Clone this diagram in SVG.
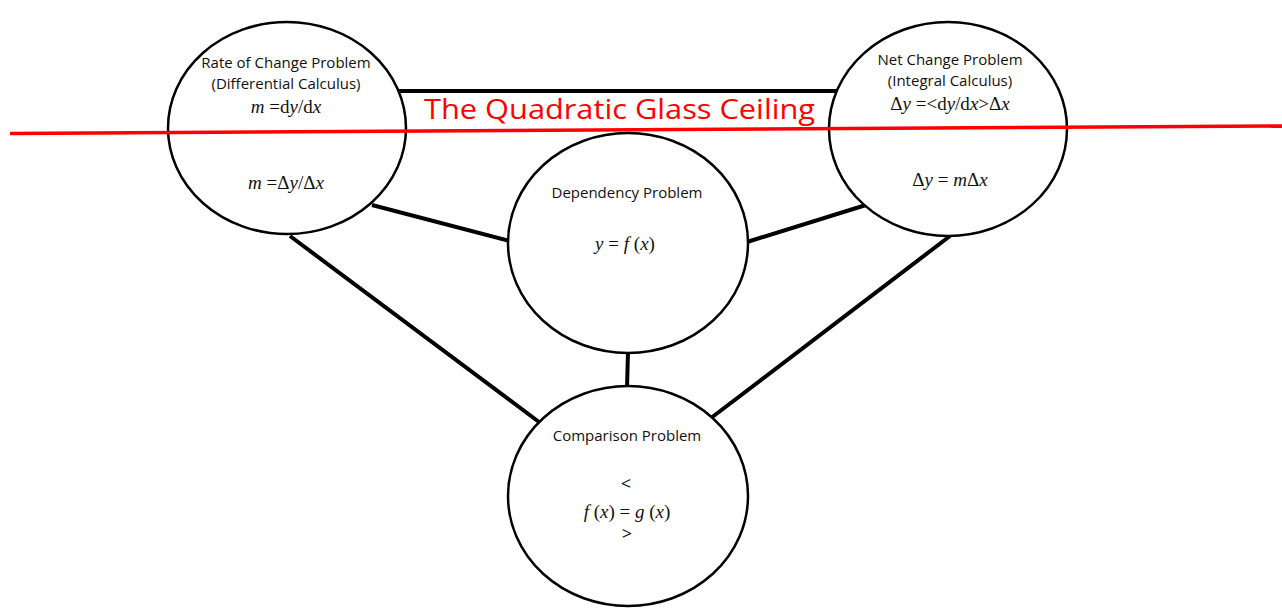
<svg xmlns="http://www.w3.org/2000/svg" width="1282" height="608" viewBox="0 0 1282 608">
<style>
.node{fill:#fff;stroke:#000;stroke-width:2.5}
.edge{stroke:#000;stroke-width:4;fill:none}
.lbl{font-family:"Open Sans","Liberation Sans",sans-serif;font-size:15px;fill:#111;text-anchor:middle}
.cmp{font-family:"Open Sans","Liberation Sans",sans-serif;font-size:18px;fill:#111;text-anchor:middle}
.math{font-family:"Liberation Serif","Times New Roman",serif;font-size:19px;fill:#111;text-anchor:middle}
.i{font-style:italic}
.red{font-family:"Open Sans","Liberation Sans",sans-serif;font-size:28px;fill:#f00}
</style>
<rect width="1282" height="608" fill="#fff"/>
<g id="connectors">
<line class="edge" x1="398" y1="91" x2="838" y2="91"/>
<line class="edge" x1="372" y1="205" x2="510" y2="241"/>
<line class="edge" x1="866" y1="205" x2="747" y2="242"/>
<line class="edge" x1="290" y1="236" x2="539" y2="422"/>
<line class="edge" x1="950" y1="236" x2="711" y2="418"/>
<line class="edge" x1="628" y1="352" x2="627" y2="388"/>
</g>
<g id="rate">
<ellipse class="node" cx="287" cy="128" rx="119" ry="106"/>
<text class="lbl" x="286" y="68">Rate of Change Problem</text>
<text class="lbl" x="286" y="89">(Differential Calculus)</text>
<text class="math" x="286" y="113"><tspan class="i">m</tspan> =d<tspan class="i">y</tspan>/d<tspan class="i">x</tspan></text>
<text class="math" x="286" y="189"><tspan class="i">m</tspan> =Δ<tspan class="i">y</tspan>/Δ<tspan class="i">x</tspan></text>
</g>
<g id="net">
<ellipse class="node" cx="948" cy="129" rx="119" ry="107"/>
<text class="lbl" x="950" y="65">Net Change Problem</text>
<text class="lbl" x="950" y="86">(Integral Calculus)</text>
<text class="math" x="950" y="110">Δ<tspan class="i">y</tspan> =&lt;d<tspan class="i">y</tspan>/d<tspan class="i">x</tspan>&gt;Δ<tspan class="i">x</tspan></text>
<text class="math" x="950" y="186">Δ<tspan class="i">y</tspan> = <tspan class="i">m</tspan>Δ<tspan class="i">x</tspan></text>
</g>
<g id="dependency">
<ellipse class="node" cx="628" cy="243" rx="120" ry="110"/>
<text class="lbl" x="627" y="198">Dependency Problem</text>
<text class="math" x="625" y="250"><tspan class="i">y</tspan> = <tspan class="i">f</tspan> (<tspan class="i">x</tspan>)</text>
</g>
<g id="comparison">
<ellipse class="node" cx="628" cy="496" rx="120" ry="110"/>
<text class="lbl" x="627" y="441">Comparison Problem</text>
<text class="cmp" x="626" y="490">&lt;</text>
<text class="math" x="627" y="518"><tspan class="i">f</tspan> (<tspan class="i">x</tspan>) = <tspan class="i">g</tspan> (<tspan class="i">x</tspan>)</text>
<text class="cmp" x="627" y="540">&gt;</text>
</g>
<g id="ceiling">
<line x1="10" y1="133.5" x2="1282" y2="126" stroke="#f00" stroke-width="3.5"/>
<text class="red" x="424" y="119" textLength="391" lengthAdjust="spacingAndGlyphs">The Quadratic Glass Ceiling</text>
</g>
</svg>
